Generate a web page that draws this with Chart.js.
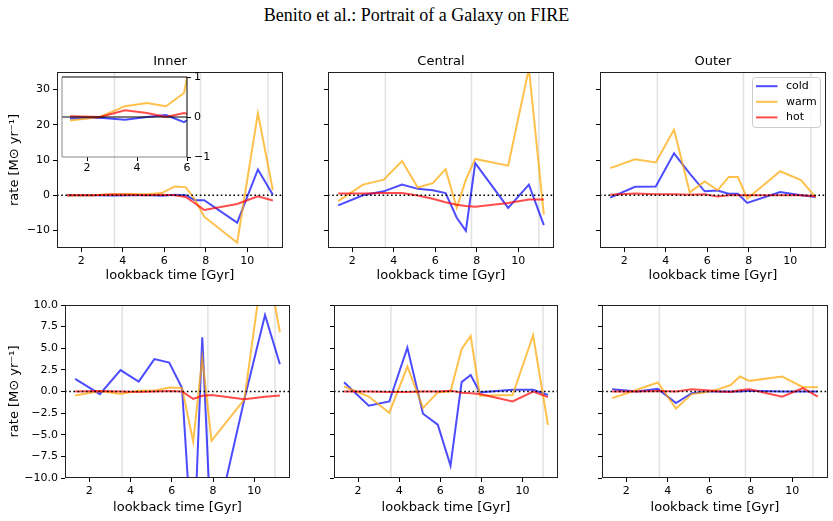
<!DOCTYPE html>
<html>
<head>
<meta charset="utf-8">
<script src="https://cdn.jsdelivr.net/npm/chart.js@4.4.1/dist/chart.umd.min.js"></script>
<style>
html,body{margin:0;padding:0;background:#fff;}
#fig{position:relative;width:833px;height:521px;overflow:hidden;background:#fff;}
#fig canvas{position:absolute;left:0;top:0;}
#suptitle{position:absolute;left:0;top:5px;width:833px;text-align:center;font-family:"Liberation Serif","DejaVu Serif",serif;font-size:18px;line-height:20px;color:#000;}
</style>
</head>
<body>
<div id="fig">
<div id="suptitle">Benito et al.: Portrait of a Galaxy on FIRE</div>
<canvas id="p0" width="833" height="521"></canvas>
<canvas id="p1" width="833" height="521"></canvas>
<canvas id="p2" width="833" height="521"></canvas>
<canvas id="p3" width="833" height="521"></canvas>
<canvas id="p4" width="833" height="521"></canvas>
<canvas id="p5" width="833" height="521"></canvas>
<canvas id="inset" width="833" height="521"></canvas>
</div>
<script>
// snapshot times and marker epochs
const lookback=[1.32,2.52,3.52,4.40,5.16,5.88,6.50,7.04,7.48,7.93,9.52,10.52,11.24];
const markers=[3.6,7.75,11.0];
const regions=["Inner","Central","Outer"];
const phases=["cold","warm","hot"];
const xTicks=[2,4,6,8,10];
const yTicksTop=[-10,0,10,20,30];
const yTicksBottom=[-10,-7.5,-5,-2.5,0,2.5,5,7.5,10];
const insetXTicks=[2,4,6];
const insetYTicks=[-1,0,1];

// top row rates
const innerTopCold=[-0.04,-0.02,-0.07,0.0,0.05,-0.13,0.1,0.0,-1.4,-1.4,-7.8,7.3,0.1];
const innerTopWarm=[-0.09,0.0,0.27,0.35,0.27,0.6,2.5,2.3,-1.2,-6.1,-13.5,23.3,1.4];
const innerTopHot=[0.02,0.0,0.17,0.1,0.0,0.1,0.0,-0.5,-2.3,-4.2,-2.5,-0.3,-1.5];
const centralTopCold=[-2.9,0.0,1.1,3.0,1.8,1.4,0.6,-6.4,-10.1,9.1,-3.6,3.0,-8.5];
const centralTopWarm=[-1.7,3.0,4.4,9.7,2.2,3.4,7.4,-3.6,4.4,10.3,8.4,36,-5.5];
const centralTopHot=[0.5,0.5,0.6,0.6,-0.1,-1.0,-2.0,-2.7,-3.1,-3.3,-2.2,-1.2,-1.2];
const outerTopCold=[-0.7,2.4,2.5,11.9,6.1,1.1,1.3,0.4,0.4,-2.2,0.9,0.0,-0.5];
const outerTopWarm=[7.7,10.2,9.3,18.6,0.8,3.9,1.4,5.2,5.2,-1.0,6.8,4.3,-0.6];
const outerTopHot=[0.1,0.5,0.3,0.3,0.1,0.3,-0.4,0.0,0.0,0.0,0.0,0.0,-0.3];

// bottom row rates
const innerBotCold=[1.46,-0.3,2.47,1.15,3.74,3.35,0.4,-20,6.27,-17.6,-0.9,8.85,3.15];
const innerBotWarm=[-0.45,0.05,-0.3,0.1,0.1,0.45,0.4,-5.8,3.85,-5.7,-0.9,16.4,6.85];
const innerBotHot=[0.0,0.05,0.0,-0.05,0.0,0.05,0.0,-0.85,-0.5,-0.4,-0.9,-0.6,-0.45];
const centralBotCold=[1.08,-1.65,-1.15,5.08,-2.57,-3.84,-8.57,1.08,1.9,-0.1,0.2,0.2,-0.4];
const centralBotWarm=[0.58,-0.58,-2.46,2.88,-1.9,-0.1,0.0,4.9,6.42,-0.5,-0.4,6.5,-3.85];
const centralBotHot=[0.0,0.0,-0.05,-0.05,0.0,0.0,0.1,-0.15,-0.2,-0.3,-1.15,0.0,-0.65];
const outerBotCold=[0.27,0.0,0.3,-1.34,-0.2,0.0,0.0,0.0,0.0,0.1,0.0,0.0,0.0];
const outerBotWarm=[-0.77,0.2,1.04,-1.96,-0.3,-0.05,0.3,0.75,1.73,1.23,1.73,0.5,0.5];
const outerBotHot=[0.0,0.0,0.05,0.0,0.25,0.15,0.0,-0.05,0.15,0.25,-0.6,0.4,-0.6];

const colors=["rgba(0,0,255,0.7)","rgba(255,165,0,0.7)","rgba(255,0,0,0.7)"];

Chart.defaults.font.family="'DejaVu Sans', sans-serif";
Chart.defaults.color="#000";

const minus=s=>String(s).replace("-","\u2212");

const deco={
id:"deco",
beforeDatasetsDraw(chart,args,o){
if(!o.marks) return;
const {ctx,chartArea:a,scales:{x}}=chart;
ctx.save();
ctx.strokeStyle="#e2e2e2";
ctx.lineWidth=1.5;
markers.forEach(v=>{
const px=x.getPixelForValue(v);
ctx.beginPath();ctx.moveTo(px,a.top);ctx.lineTo(px,a.bottom);ctx.stroke();
});
ctx.restore();
},
afterDatasetsDraw(chart,args,o){
const {ctx,chartArea:a,scales:{y}}=chart;
const py=y.getPixelForValue(0);
ctx.save();
ctx.strokeStyle="#000";
if(o.inset){ctx.lineWidth=1.2;}
else{ctx.lineWidth=1.6;ctx.setLineDash([1.6,2.6]);}
ctx.beginPath();ctx.moveTo(a.left,py);ctx.lineTo(a.right,py);ctx.stroke();
ctx.restore();
},
afterDraw(chart,args,o){
const {ctx,chartArea:a}=chart;
ctx.save();
ctx.lineWidth=1;
if(o.inset){
ctx.strokeStyle="#888";
ctx.beginPath();ctx.moveTo(a.left,a.top);ctx.lineTo(a.left,a.bottom);ctx.lineTo(a.right,a.bottom);ctx.stroke();
ctx.strokeStyle="#000";
ctx.beginPath();ctx.moveTo(a.left,a.top);ctx.lineTo(a.right,a.top);ctx.lineTo(a.right,a.bottom);ctx.stroke();
}else{
ctx.strokeStyle="#222";
ctx.strokeRect(a.left+0.5,a.top+0.5,a.right-a.left-1,a.bottom-a.top-1);
}
if(o.title){
ctx.fillStyle="#000";
ctx.font="13px 'DejaVu Sans'";
ctx.textAlign="center";
ctx.textBaseline="middle";
ctx.fillText(o.title,(a.left+a.right)/2,a.top-10);
}
if(o.legend){
const bw=68,bh=50,bx=a.right-5.5-bw,by=a.top+5.5;
ctx.fillStyle="rgba(255,255,255,0.8)";
ctx.strokeStyle="#ccc";
ctx.beginPath();ctx.roundRect(bx,by,bw,bh,3);ctx.fill();ctx.stroke();
ctx.font="11px 'DejaVu Sans'";
ctx.textAlign="left";
ctx.textBaseline="middle";
chart.data.datasets.forEach((d,i)=>{
const ly=by+8.7+i*15.6;
ctx.strokeStyle=d.borderColor;
ctx.lineWidth=2;
ctx.beginPath();ctx.moveTo(bx+3.5,ly);ctx.lineTo(bx+25,ly);ctx.stroke();
ctx.fillStyle="#000";
ctx.fillText(d.label,bx+33.5,ly);
});
}
ctx.restore();
}
};
Chart.register(deco);

function makeSets(series){
return phases.map((p,i)=>({
label:p,
data:lookback.map((x,j)=>({x:x,y:series[i][j]})),
borderColor:colors[i],
borderWidth:2,
pointRadius:0,
tension:0,
order:2-i
}));
}

function panel(id,box,series,o){
const W=box.l-7;
const H=o.titleY-box.b+7.8;
return new Chart(document.getElementById(id),{
type:"line",
data:{datasets:makeSets(series)},
options:{
responsive:false,
animation:false,
events:[],
layout:{autoPadding:false,padding:{left:box.l-W,top:box.t,right:833-box.r,bottom:521-box.b-H}},
plugins:{
legend:{display:false},
tooltip:{enabled:false},
deco:{marks:true,title:o.title,legend:o.legend}
},
scales:{
x:{
type:"linear",min:0.83,max:11.73,
afterBuildTicks:s=>{s.ticks=xTicks.map(v=>({value:v}));},
afterFit:s=>{s.height=H;},
grid:{drawOnChartArea:false,drawTicks:true,tickLength:4,tickColor:"#000"},
border:{display:false},
ticks:{padding:3,font:{size:11},color:"#000",maxRotation:0,autoSkip:false},
title:{display:true,text:"lookback time [Gyr]",font:{size:13},padding:0,color:"#000"}
},
y:{
type:"linear",min:o.yMin,max:o.yMax,
afterBuildTicks:s=>{s.ticks=o.yTicks.map(v=>({value:v}));},
afterFit:s=>{s.width=W;},
grid:{drawOnChartArea:false,drawTicks:true,tickLength:4,tickColor:"#000"},
border:{display:false},
ticks:{padding:3,font:{size:11},color:"#000",autoSkip:false,
callback:v=>o.ylab?minus(o.fmt(v)):""},
title:{display:!!o.ylab,text:"rate [M\u2299 yr\u207B\u00B9]",font:{size:13},padding:0,color:"#000"}
}
}
}
});
}

const fmtTop=v=>String(v);
const fmtBot=v=>v.toFixed(1);

panel("p0",{l:57,r:283,t:72,b:248},[innerTopCold,innerTopWarm,innerTopHot],
{title:regions[0],yMin:-15,yMax:35,yTicks:yTicksTop,ylab:true,fmt:fmtTop,titleY:276});
panel("p1",{l:328,r:554,t:72,b:248},[centralTopCold,centralTopWarm,centralTopHot],
{title:regions[1],yMin:-15,yMax:35,yTicks:yTicksTop,ylab:false,fmt:fmtTop,titleY:276});
panel("p2",{l:600,r:826,t:72,b:248},[outerTopCold,outerTopWarm,outerTopHot],
{title:regions[2],yMin:-15,yMax:35,yTicks:yTicksTop,ylab:false,fmt:fmtTop,titleY:276,legend:true});
panel("p3",{l:65,r:290,t:305,b:478},[innerBotCold,innerBotWarm,innerBotHot],
{yMin:-10,yMax:10,yTicks:yTicksBottom,ylab:true,fmt:fmtBot,titleY:508});
panel("p4",{l:334,r:558,t:305,b:478},[centralBotCold,centralBotWarm,centralBotHot],
{yMin:-10,yMax:10,yTicks:yTicksBottom,ylab:false,fmt:fmtBot,titleY:508});
panel("p5",{l:602,r:828,t:305,b:478},[outerBotCold,outerBotWarm,outerBotHot],
{yMin:-10,yMax:10,yTicks:yTicksBottom,ylab:false,fmt:fmtBot,titleY:508});

// zoomed inset of the inner panel
new Chart(document.getElementById("inset"),{
type:"line",
data:{datasets:makeSets([innerTopCold,innerTopWarm,innerTopHot])},
options:{
responsive:false,
animation:false,
events:[],
layout:{autoPadding:false,padding:{left:62,top:77,right:833-187-24,bottom:521-157-18}},
plugins:{legend:{display:false},tooltip:{enabled:false},deco:{inset:true}},
scales:{
x:{
type:"linear",min:1,max:6,
afterBuildTicks:s=>{s.ticks=insetXTicks.map(v=>({value:v}));},
afterFit:s=>{s.height=18;},
grid:{drawOnChartArea:false,drawTicks:true,tickLength:4,tickColor:"#000"},
border:{display:false},
ticks:{padding:1,font:{size:11},color:"#000",maxRotation:0,autoSkip:false}
},
y:{
type:"linear",position:"right",min:-1,max:1,
afterBuildTicks:s=>{s.ticks=insetYTicks.map(v=>({value:v}));},
afterFit:s=>{s.width=24;},
grid:{drawOnChartArea:false,drawTicks:true,tickLength:4,tickColor:"#000"},
border:{display:false},
ticks:{padding:3,font:{size:11},color:"#000",autoSkip:false,callback:v=>minus(v)}
}
}
}
});
</script>
</body>
</html>
